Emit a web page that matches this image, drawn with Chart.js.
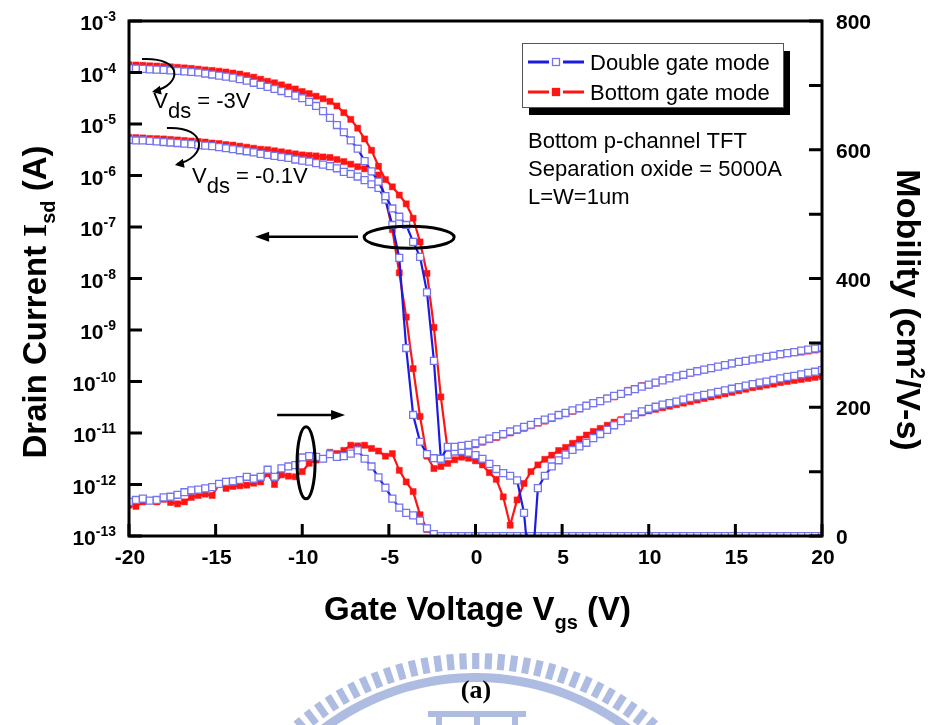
<!DOCTYPE html>
<html>
<head>
<meta charset="utf-8">
<title>Bottom p-channel TFT transfer characteristics</title>
<script src="https://cdn.jsdelivr.net/npm/chart.js@4.4.0/dist/chart.umd.min.js"></script>
<style>
  html, body { margin: 0; padding: 0; background: #fff; }
  #wrap { width: 934px; height: 725px; position: relative; }
</style>
</head>
<body>
<div id="wrap"><canvas id="chart" width="934" height="725"></canvas></div>
<script>
// Gate voltage sweep (V)
const gateVoltage = [
  -20, -19.6, -19.2, -18.8, -18.4, -18, -17.6, -17.2, -16.8, -16.4,
  -16, -15.6, -15.2, -14.8, -14.4, -14, -13.6, -13.2, -12.8, -12.4,
  -12, -11.6, -11.2, -10.8, -10.4, -10, -9.6, -9.2, -8.8, -8.4,
  -8, -7.6, -7.2, -6.8, -6.4, -6, -5.6, -5.2, -4.8, -4.4,
  -4, -3.6, -3.2, -2.8, -2.4, -2, -1.6, -1.2, -0.8, -0.4,
  0, 0.4, 0.8, 1.2, 1.6, 2, 2.4, 2.8, 3.2, 3.6,
  4, 4.4, 4.8, 5.2, 5.6, 6, 6.4, 6.8, 7.2, 7.6,
  8, 8.4, 8.8, 9.2, 9.6, 10, 10.4, 10.8, 11.2, 11.6,
  12, 12.4, 12.8, 13.2, 13.6, 14, 14.4, 14.8, 15.2, 15.6,
  16, 16.4, 16.8, 17.2, 17.6, 18, 18.4, 18.8, 19.2, 19.6,
  20
];

// log10 of |Isd| (A), double gate mode, Vds = -3 V
const logIdDoubleHigh = [
  -3.92, -3.925, -3.93, -3.94, -3.945, -3.95, -3.96, -3.97, -3.98, -3.99,
  -4.0, -4.02, -4.04, -4.06, -4.08, -4.1, -4.13, -4.16, -4.2, -4.24,
  -4.28, -4.32, -4.36, -4.4, -4.45, -4.5, -4.57, -4.65, -4.75, -4.88,
  -5.02, -5.16, -5.32, -5.48, -5.72, -5.92, -6.12, -6.4, -6.64, -6.8,
  -6.96, -7.29, -7.58, -8.27, -9.6, -11.5, -11.27, -11.27, -11.25, -11.23,
  -11.2, -11.15, -11.11, -11.06, -11.02, -10.97, -10.93, -10.88, -10.84, -10.79,
  -10.74, -10.7, -10.65, -10.61, -10.56, -10.52, -10.47, -10.42, -10.38, -10.33,
  -10.28, -10.24, -10.19, -10.15, -10.1, -10.06, -10.02, -9.98, -9.94, -9.9,
  -9.87, -9.83, -9.8, -9.77, -9.74, -9.71, -9.68, -9.65, -9.62, -9.6,
  -9.57, -9.55, -9.52, -9.5, -9.47, -9.45, -9.43, -9.4, -9.38, -9.36,
  -9.34
];

// log10 of |Isd| (A), bottom gate mode, Vds = -3 V
const logIdBottomHigh = [
  -3.85, -3.855, -3.86, -3.87, -3.875, -3.88, -3.89, -3.9, -3.91, -3.92,
  -3.935, -3.95, -3.96, -3.975, -3.99, -4.01, -4.03, -4.06, -4.09, -4.13,
  -4.17, -4.2, -4.24, -4.28, -4.32, -4.37, -4.41, -4.46, -4.51, -4.56,
  -4.65, -4.78, -4.91, -5.08, -5.29, -5.51, -5.82, -6.08, -6.22, -6.38,
  -6.55, -6.83, -7.29, -7.9, -8.95, -10.3, -11.35, -11.32, -11.29, -11.26,
  -11.23, -11.18, -11.13, -11.09, -11.04, -11.0, -10.95, -10.91, -10.86, -10.81,
  -10.77, -10.72, -10.67, -10.63, -10.58, -10.53, -10.47, -10.43, -10.37, -10.32,
  -10.3, -10.24, -10.17, -10.15, -10.08, -10.07, -10.03, -9.98, -9.93, -9.9,
  -9.88, -9.84, -9.81, -9.78, -9.75, -9.71, -9.69, -9.66, -9.63, -9.61,
  -9.58, -9.56, -9.53, -9.49, -9.48, -9.46, -9.44, -9.43, -9.41, -9.39,
  -9.37
];

// log10 of |Isd| (A), double gate mode, Vds = -0.1 V
const logIdDoubleLow = [
  -5.31, -5.32, -5.32, -5.33, -5.34, -5.35, -5.36, -5.37, -5.38, -5.39,
  -5.41, -5.42, -5.43, -5.45, -5.47, -5.49, -5.51, -5.53, -5.55, -5.58,
  -5.6, -5.62, -5.64, -5.66, -5.69, -5.71, -5.73, -5.76, -5.79, -5.82,
  -5.86, -5.93, -5.97, -6.02, -6.09, -6.17, -6.24, -6.47, -6.96, -7.6,
  -9.35, -10.65, -11.17, -11.41, -11.49, -11.5, -11.42, -11.36, -11.35, -11.38,
  -11.43, -11.5, -11.6, -11.7, -11.78, -11.83, -11.92, -12.55, -14, -12.07,
  -11.83, -11.65, -11.53, -11.42, -11.33, -11.26, -11.19, -11.1, -11.02, -10.94,
  -10.85, -10.77, -10.7, -10.64, -10.58, -10.53, -10.49, -10.45, -10.42, -10.39,
  -10.35, -10.32, -10.29, -10.26, -10.23, -10.2, -10.17, -10.14, -10.11, -10.08,
  -10.05, -10.02, -10.0, -9.97, -9.94, -9.91, -9.89, -9.86, -9.83, -9.81,
  -9.78
];

// log10 of |Isd| (A), bottom gate mode, Vds = -0.1 V
const logIdBottomLow = [
  -5.26, -5.265, -5.27, -5.28, -5.285, -5.29, -5.3, -5.31, -5.32, -5.33,
  -5.34, -5.35, -5.37, -5.38, -5.4, -5.41, -5.43, -5.45, -5.47, -5.49,
  -5.5, -5.52, -5.54, -5.56, -5.58, -5.6, -5.61, -5.62, -5.64, -5.65,
  -5.69, -5.73, -5.78, -5.83, -5.87, -5.93, -5.99, -6.45, -7.05, -7.89,
  -8.75, -9.75, -10.68, -11.45, -11.69, -11.65, -11.59, -11.52, -11.47, -11.49,
  -11.54, -11.62, -11.77, -11.9, -12.24, -12.79, -12.3, -11.98, -11.75, -11.62,
  -11.51, -11.43, -11.34, -11.28, -11.2, -11.12, -11.04, -10.97, -10.91, -10.85,
  -10.79, -10.74, -10.69, -10.65, -10.61, -10.57, -10.54, -10.51, -10.48, -10.45,
  -10.42, -10.39, -10.36, -10.33, -10.3, -10.27, -10.24, -10.21, -10.18, -10.15,
  -10.12, -10.1, -10.07, -10.05, -10.02, -10.0, -9.98, -9.96, -9.94, -9.92,
  -9.9
];

// Field-effect mobility (cm^2/V-s), double gate mode
const mobilityDouble = [
  53, 56, 58, 55, 56, 60, 61, 64, 68, 71,
  72, 74, 76, 81, 84, 85, 87, 92, 89, 92,
  103, 92, 105, 108, 110, 122, 124, 123, 120, 127,
  123, 124, 128, 133, 120, 108, 91, 75, 58, 44,
  36, 32, 24, 12, 3, 0, 0, 0, 0, 0,
  0, 0, 0, 0, 0, 0, 0, 0, 0, 0,
  0, 0, 0, 0, 0, 0, 0, 0, 0, 0,
  0, 0, 0, 0, 0, 0, 0, 0, 0, 0,
  0, 0, 0, 0, 0, 0, 0, 0, 0, 0,
  0, 0, 0, 0, 0, 0, 0, 0, 0, 0,
  0
];

// Field-effect mobility (cm^2/V-s), bottom gate mode
const mobilityBottom = [
  48, 46, 53, 55, 53, 57, 52, 50, 53, 60,
  63, 65, 63, 80, 74, 77, 78, 79, 82, 84,
  97, 80, 95, 93, 92, 100, 113, 118, 120, 130,
  128, 133, 141, 140, 141, 136, 132, 124, 128, 102,
  84, 69, 33, 10, 0, 0, 0, 0, 0, 0,
  0, 0, 0, 0, 0, 0, 0, 0, 0, 0,
  0, 0, 0, 0, 0, 0, 0, 0, 0, 0,
  0, 0, 0, 0, 0, 0, 0, 0, 0, 0,
  0, 0, 0, 0, 0, 0, 0, 0, 0, 0,
  0, 0, 0, 0, 0, 0, 0, 0, 0, 0,
  0
];

// Axis ticks
const voltageTicks = [-20, -15, -10, -5, 0, 5, 10, 15, 20];
const currentExponents = [-3, -4, -5, -6, -7, -8, -9, -10, -11, -12, -13];
const mobilityTicks = [0, 100, 200, 300, 400, 500, 600, 700, 800];
const mobilityLabels = [0, 200, 400, 600, 800];

// Legend and notes
const modeNames = ['Double gate mode', 'Bottom gate mode'];
const deviceNotes = ['Bottom p-channel TFT', 'Separation oxide = 5000A', 'L=W=1um'];
const drainBiasLabels = ['-3V', '-0.1V'];

const SANS = '"Liberation Sans", Arial, Helvetica, sans-serif';
const SERIF = '"Liberation Serif", "Times New Roman", serif';
const BLUE = '#1c1ce0';
const BLUE_MARK = '#7474ee';
const RED = '#ff1414';

const currentPoints = arr => gateVoltage.map((v, i) => ({ x: v, y: Math.pow(10, arr[i]) }));
const mobilityPoints = arr => gateVoltage.map((v, i) => ({ x: v, y: arr[i] }));

function blueSet(data, axis) {
  return {
    data, yAxisID: axis, order: 0, tension: 0,
    borderColor: BLUE, borderWidth: 2.2,
    pointStyle: 'rect', pointRadius: 4.9,
    pointBackgroundColor: '#ffffff', pointBorderColor: BLUE_MARK, pointBorderWidth: 1.3
  };
}
function redSet(data, axis) {
  return {
    data, yAxisID: axis, order: 1, tension: 0,
    borderColor: RED, borderWidth: 2.2,
    pointStyle: 'rect', pointRadius: 4.3,
    pointBackgroundColor: RED, pointBorderColor: RED, pointBorderWidth: 0.5
  };
}

// Light emblem behind the caption
function drawEmblem(ctx) {
  const cx = 476, cy = 930;
  ctx.save();
  ctx.fillStyle = 'rgba(160,176,220,0.85)';
  for (let a = -0.8; a <= 0.8001; a += 0.047) {
    ctx.save();
    ctx.translate(cx, cy);
    ctx.rotate(a);
    ctx.fillRect(-3.6, -277, 7.2, 16);
    ctx.restore();
  }
  ctx.beginPath();
  ctx.arc(cx, cy, 257, -Math.PI / 2 - 0.8, -Math.PI / 2 + 0.8);
  ctx.arc(cx, cy, 248, -Math.PI / 2 + 0.8, -Math.PI / 2 - 0.8, true);
  ctx.closePath();
  ctx.fill();
  ctx.fillRect(428, 711, 98, 6);
  ctx.fillRect(436, 717, 6, 8);
  ctx.fillRect(474, 717, 6, 8);
  ctx.fillRect(512, 717, 6, 8);
  ctx.restore();
}

function arrowHead(ctx, x, y, ang, len, half) {
  ctx.beginPath();
  ctx.moveTo(x, y);
  ctx.lineTo(x - len * Math.cos(ang) + half * Math.sin(ang), y - len * Math.sin(ang) - half * Math.cos(ang));
  ctx.lineTo(x - len * Math.cos(ang) - half * Math.sin(ang), y - len * Math.sin(ang) + half * Math.cos(ang));
  ctx.closePath();
  ctx.fill();
}

// Draws a run of [text, font, dy] pieces, starting at x, baseline y
function drawRun(ctx, pieces, x, y) {
  let cx = x;
  pieces.forEach(([t, f, dy]) => {
    ctx.font = f;
    ctx.fillText(t, cx, y + dy);
    cx += ctx.measureText(t).width;
  });
  return cx - x;
}
function runWidth(ctx, pieces) {
  let w = 0;
  pieces.forEach(([t, f]) => { ctx.font = f; w += ctx.measureText(t).width; });
  return w;
}

const decorations = {
  id: 'decorations',
  beforeDraw(chart) {
    const ctx = chart.ctx;
    ctx.save();
    ctx.fillStyle = '#fff';
    ctx.fillRect(0, 0, chart.width, chart.height);
    drawEmblem(ctx);
    ctx.restore();
  },
  afterDraw(chart) {
    const { ctx, chartArea: ca, scales } = chart;
    const xs = scales.x, yi = scales.yI, ym = scales.yM;
    const P = (v, lg) => [xs.getPixelForValue(v), yi.getPixelForValue(Math.pow(10, lg))];
    ctx.save();
    ctx.fillStyle = '#000';
    ctx.strokeStyle = '#000';
    ctx.textAlign = 'left';
    ctx.textBaseline = 'alphabetic';

    // frame and inward ticks
    ctx.lineWidth = 3;
    ctx.strokeRect(ca.left, ca.top, ca.right - ca.left, ca.bottom - ca.top);
    ctx.beginPath();
    voltageTicks.forEach(v => {
      const px = xs.getPixelForValue(v);
      ctx.moveTo(px, ca.bottom); ctx.lineTo(px, ca.bottom - 12);
    });
    currentExponents.forEach(e => {
      const py = yi.getPixelForValue(Math.pow(10, e));
      ctx.moveTo(ca.left, py); ctx.lineTo(ca.left + 13, py);
    });
    mobilityTicks.forEach(m => {
      const py = ym.getPixelForValue(m);
      ctx.moveTo(ca.right, py); ctx.lineTo(ca.right - 13, py);
    });
    ctx.stroke();

    // tick labels
    const tickFont = 'bold 21px ' + SANS;
    const supFont = 'bold 14px ' + SANS;
    ctx.font = tickFont;
    ctx.textAlign = 'center';
    voltageTicks.forEach(v => {
      ctx.fillText(String(v), xs.getPixelForValue(v) + 1, ca.bottom + 28);
    });
    ctx.textAlign = 'left';
    currentExponents.forEach(e => {
      const py = yi.getPixelForValue(Math.pow(10, e));
      const pieces = [['10', tickFont, 0], [String(e), supFont, -9]];
      const w = runWidth(ctx, pieces);
      drawRun(ctx, pieces, 116 - w, py + 9);
    });
    ctx.font = tickFont;
    mobilityLabels.forEach(m => {
      ctx.fillText(String(m), ca.right + 14, ym.getPixelForValue(m) + 8);
    });

    // x axis title
    const xt = [['Gate Voltage V', 'bold 33px ' + SANS, 0], ['gs', 'bold 20px ' + SANS, 9], [' (V)', 'bold 33px ' + SANS, 0]];
    drawRun(ctx, xt, (ca.left + ca.right) / 2 + 2 - runWidth(ctx, xt) / 2, 620);

    // left axis title
    const yt = [['Drain Current ', 'bold 33px ' + SANS, 0], ['I', 'bold 33px ' + SERIF, 0], ['sd', 'bold 20px ' + SANS, 9], [' (A)', 'bold 33px ' + SANS, 0]];
    ctx.save();
    ctx.translate(46, 302);
    ctx.rotate(-Math.PI / 2);
    drawRun(ctx, yt, -runWidth(ctx, yt) / 2, 0);
    ctx.restore();

    // right axis title
    const rt = [['Mobility (cm', 'bold 34px ' + SANS, 0], ['2', 'bold 20px ' + SANS, -14], ['/V-s)', 'bold 34px ' + SANS, 0]];
    ctx.save();
    ctx.translate(897, 310);
    ctx.rotate(Math.PI / 2);
    drawRun(ctx, rt, -runWidth(ctx, rt) / 2, 0);
    ctx.restore();

    // legend box with drop shadow
    const lx = 522, ly = 43, lw = 261, lh = 64;
    ctx.fillStyle = '#000';
    ctx.fillRect(lx + 7, ly + 8, lw, lh);
    ctx.fillStyle = '#fff';
    ctx.fillRect(lx, ly, lw, lh);
    ctx.lineWidth = 1;
    ctx.strokeStyle = '#555';
    ctx.strokeRect(lx + 0.5, ly + 0.5, lw, lh);
    const legendColors = [[BLUE, BLUE_MARK, '#fff'], [RED, RED, RED]];
    modeNames.forEach((name, i) => {
      const y = ly + 19 + i * 30;
      const [lineC, markC, fillC] = legendColors[i];
      ctx.strokeStyle = lineC;
      ctx.lineWidth = 3;
      ctx.beginPath();
      ctx.moveTo(lx + 6, y); ctx.lineTo(lx + 27, y);
      ctx.moveTo(lx + 41, y); ctx.lineTo(lx + 62, y);
      ctx.stroke();
      ctx.fillStyle = fillC;
      ctx.fillRect(lx + 30.5, y - 3.5, 7, 7);
      ctx.strokeStyle = markC;
      ctx.lineWidth = 1.3;
      ctx.strokeRect(lx + 30.5, y - 3.5, 7, 7);
      ctx.fillStyle = '#000';
      ctx.font = '22px ' + SANS;
      ctx.fillText(name, lx + 68, y + 8);
    });

    // device notes
    ctx.font = '22px ' + SANS;
    deviceNotes.forEach((t, i) => ctx.fillText(t, 528, 148 + i * 28));

    // drain bias labels with curved arrows
    const biasAnchors = [[-18.6, -4.69], [-16.36, -6.146]];
    drainBiasLabels.forEach((lab, i) => {
      const [x, y] = P(biasAnchors[i][0], biasAnchors[i][1]);
      drawRun(ctx, [['V', '22px ' + SANS, 0], ['ds', '22px ' + SANS, 10], [' = ' + lab, '22px ' + SANS, 0]], x, y);
    });
    const curls = [[-19.25, -3.738, 12, 32], [-17.81, -5.078, 10, 36]];
    ctx.strokeStyle = '#000';
    ctx.fillStyle = '#000';
    ctx.lineWidth = 2;
    curls.forEach(([v, lg, ex, ey]) => {
      const [x, y] = P(v, lg);
      const c1 = [x + 42, y - 2], c2 = [x + 40, y + ey - 6], e = [x + ex, y + ey];
      ctx.beginPath();
      ctx.moveTo(x, y);
      ctx.bezierCurveTo(c1[0], c1[1], c2[0], c2[1], e[0], e[1]);
      ctx.stroke();
      arrowHead(ctx, e[0] - 2, e[1] + 1, Math.atan2(e[1] - c2[1], e[0] - c2[0]), 9, 4.5);
    });

    // arrows pointing to the current and mobility axes
    ctx.lineWidth = 2.5;
    const [a1x, a1y] = P(-6.78, -7.19), [b1x] = P(-12.72, -7.19);
    ctx.beginPath(); ctx.moveTo(a1x, a1y); ctx.lineTo(b1x + 8, a1y); ctx.stroke();
    arrowHead(ctx, b1x, a1y, Math.PI, 14, 5);
    const [a2x, a2y] = P(-11.45, -10.65), [b2x] = P(-7.53, -10.65);
    ctx.beginPath(); ctx.moveTo(a2x, a2y); ctx.lineTo(b2x - 8, a2y); ctx.stroke();
    arrowHead(ctx, b2x, a2y, 0, 14, 5);

    // grouping ellipses
    ctx.lineWidth = 3;
    const [e1x, e1y] = P(-3.83, -7.2);
    ctx.beginPath(); ctx.ellipse(e1x, e1y, 45, 11, 0, 0, Math.PI * 2); ctx.stroke();
    const [e2x, e2y] = P(-9.78, -11.58);
    ctx.beginPath(); ctx.ellipse(e2x, e2y, 9, 36, 0, 0, Math.PI * 2); ctx.stroke();

    // panel caption
    ctx.font = 'bold 26px ' + SERIF;
    ctx.textAlign = 'center';
    ctx.fillText('(a)', 476, 698);
    ctx.restore();
  }
};

new Chart(document.getElementById('chart'), {
  type: 'line',
  data: {
    datasets: [
      blueSet(currentPoints(logIdDoubleHigh), 'yI'),
      blueSet(currentPoints(logIdDoubleLow), 'yI'),
      blueSet(mobilityPoints(mobilityDouble), 'yM'),
      redSet(currentPoints(logIdBottomHigh), 'yI'),
      redSet(currentPoints(logIdBottomLow), 'yI'),
      redSet(mobilityPoints(mobilityBottom), 'yM')
    ]
  },
  options: {
    responsive: false,
    animation: false,
    events: [],
    layout: { padding: { top: 21, left: 0, right: 0, bottom: 0 } },
    plugins: { legend: { display: false }, tooltip: { enabled: false } },
    scales: {
      x: {
        type: 'linear', min: -20, max: 20,
        ticks: { display: false }, grid: { display: false, drawTicks: false }, border: { display: false },
        afterFit(s) { s.height = 189; }
      },
      yI: {
        type: 'logarithmic', position: 'left', min: 1e-13, max: 1e-3,
        ticks: { display: false }, grid: { display: false, drawTicks: false }, border: { display: false },
        afterFit(s) { s.width = 129; }
      },
      yM: {
        type: 'linear', position: 'right', min: 0, max: 800,
        ticks: { display: false }, grid: { display: false, drawTicks: false }, border: { display: false },
        afterFit(s) { s.width = 112; }
      }
    }
  },
  plugins: [decorations]
});
</script>
</body>
</html>
